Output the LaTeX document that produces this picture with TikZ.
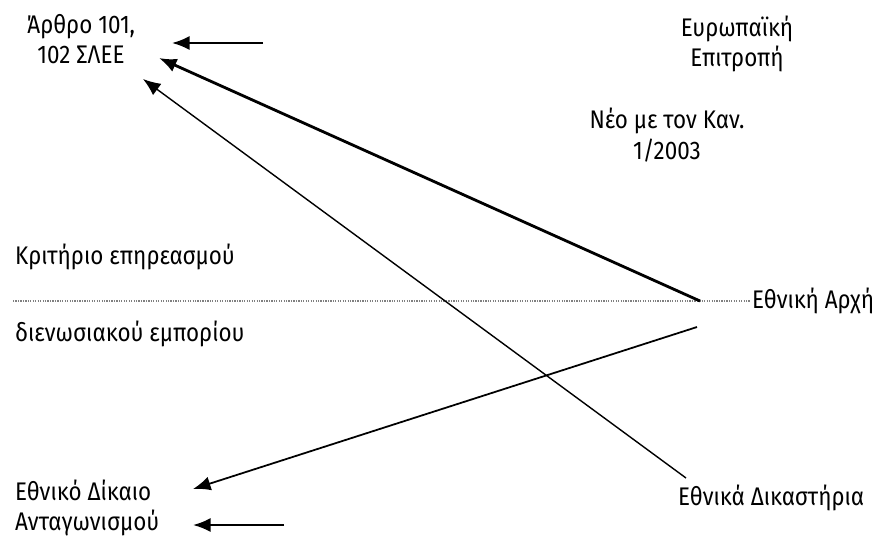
\documentclass[tikz,border=0pt]{standalone}
\usepackage{fontspec}
\setmainfont{Fira Sans}[FakeStretch=0.88]
\usepackage{tikz}
\usetikzlibrary{arrows.meta,positioning}

\begin{document}
\begin{tikzpicture}[x=0.02cm,y=-0.02cm,
    every node/.style={font=\fontsize{14.5}{17.5}\selectfont},
    txt/.style={align=center,inner sep=1pt},
    lft/.style={txt,anchor=west},
    arr/.style={-{Latex[length=10pt,width=8pt]},line width=#1},
    arr/.default=1pt,
    dotline/.style={line width=0.6pt,gray,dash pattern=on 0.7pt off 0.7pt}]
  \useasboundingbox (0,0) rectangle (875,539);

  % texts
  \node[txt] (arthro) at (81,39) {Άρθρο 101,\\102 ΣΛΕΕ};
  \node[txt] (ek) at (737,44) {Ευρωπαϊκή\\Επιτροπή};
  \node[txt] (neo) at (667,135) {Νέο με τον Καν.\\1/2003};
  \node[lft] (krit) at (13,257) {Κριτήριο επηρεασμού};
  \node[lft] (dien) at (13,334) {διενωσιακού εμπορίου};
  \node[lft] (arxi) at (750,301) {Εθνική Αρχή};
  \node[lft] (dikaio) at (13,490) {Εθνικό Δίκαιο};
  \node[lft] (antag) at (13,523) {Ανταγωνισμού};
  \node[lft] (dikast) at (676,498) {Εθνικά Δικαστήρια};

  % points
  \coordinate (dl) at (13,301);
  \coordinate (top-tail) at (263,43);
  \coordinate (top-tip) at (172,43);
  \coordinate (bot-tail) at (284,525);
  \coordinate (bot-tip) at (193,525);
  \coordinate (arxi-a) at (700,301);
  \coordinate (arxi-b) at (697,327);
  \coordinate (dikast-a) at (686,478);
  \coordinate (arthro-a) at (159,58);
  \coordinate (arthro-b) at (143,79);
  \coordinate (dikaio-a) at (193,489);

  \draw[dotline] (dl) -- (arxi.west);
  \draw[arr=1.2pt] (top-tail) -- (top-tip);
  \draw[arr=1.6pt] (arxi-a) -- (arthro-a);
  \draw[arr=0.8pt] (dikast-a) -- (arthro-b);
  \draw[arr=1pt] (arxi-b) -- (dikaio-a);
  \draw[arr=1.2pt] (bot-tail) -- (bot-tip);
\end{tikzpicture}
\end{document}
